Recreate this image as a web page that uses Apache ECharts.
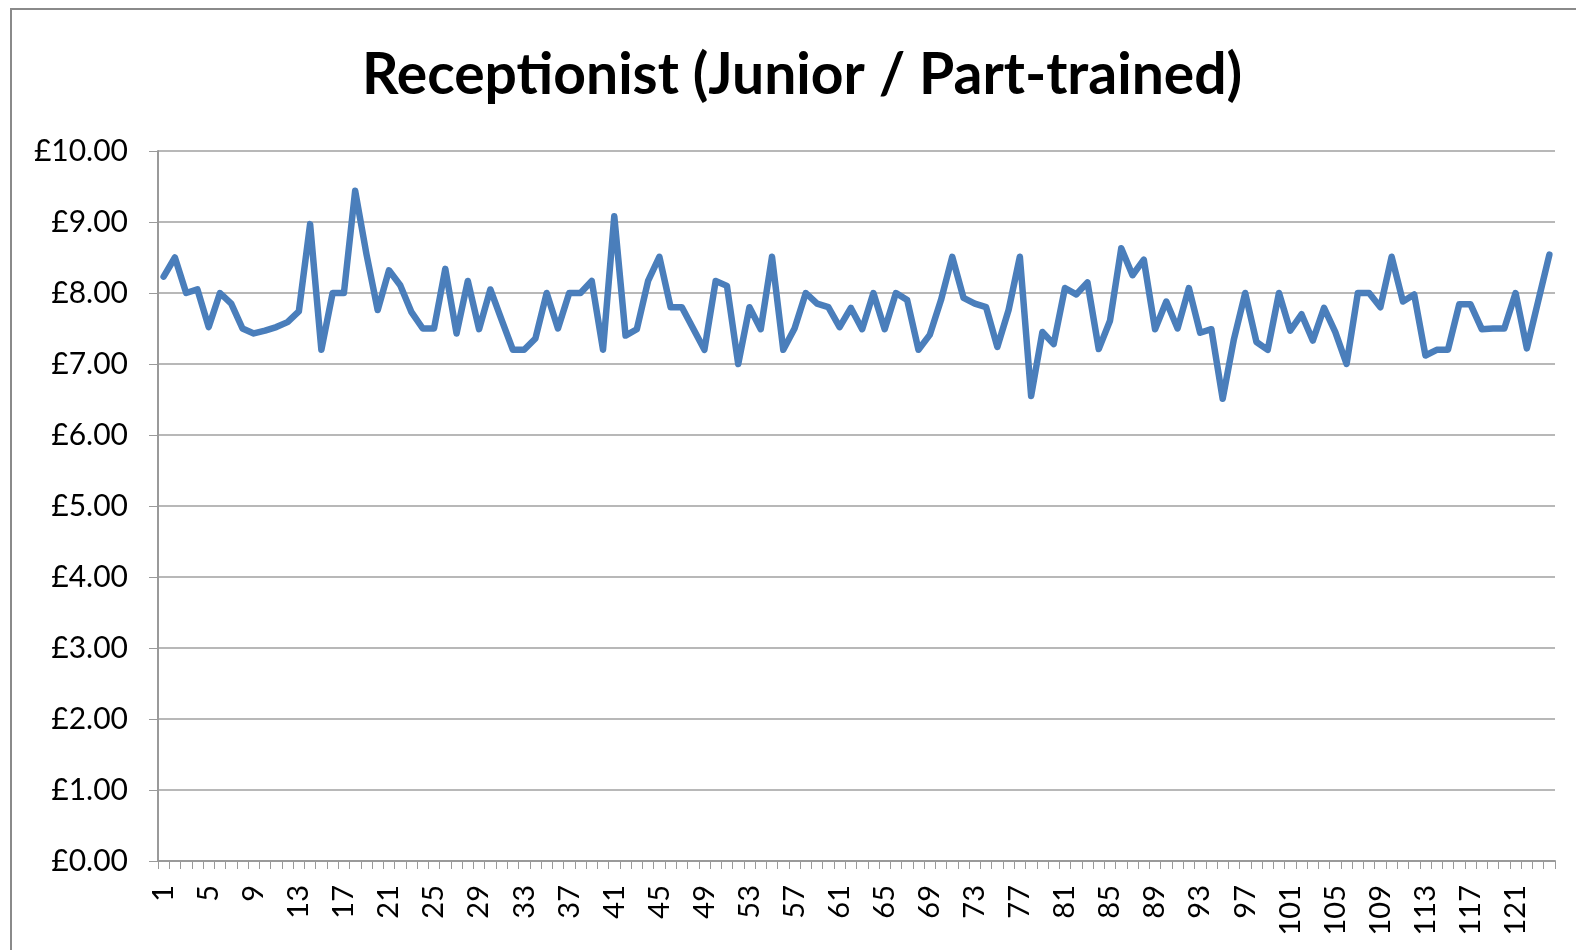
<!DOCTYPE html>
<html>
<head>
<meta charset="utf-8">
<script src="https://cdn.jsdelivr.net/npm/echarts@6/dist/echarts.min.js"></script>
<style>
html,body{margin:0;padding:0;background:#fff;}
#chart{width:1576px;height:950px;}
</style>
</head>
<body>
<div id="chart"></div>
<script>
const chartTitle = 'Receptionist (Junior / Part-trained)';
const categories = ['1','2','3','4','5','6','7','8','9','10','11','12','13','14','15','16','17','18','19','20',
'21','22','23','24','25','26','27','28','29','30','31','32','33','34','35','36','37','38','39','40',
'41','42','43','44','45','46','47','48','49','50','51','52','53','54','55','56','57','58','59','60',
'61','62','63','64','65','66','67','68','69','70','71','72','73','74','75','76','77','78','79','80',
'81','82','83','84','85','86','87','88','89','90','91','92','93','94','95','96','97','98','99','100',
'101','102','103','104','105','106','107','108','109','110','111','112','113','114','115','116','117','118','119','120',
'121','122','123','124'];
const rates = [
8.23, 8.50, 8.00, 8.05, 7.52, 8.00, 7.85, 7.50, 7.43, 7.47,
7.52, 7.59, 7.74, 8.97, 7.20, 8.00, 8.00, 9.44, 8.55, 7.76,
8.32, 8.11, 7.73, 7.50, 7.50, 8.34, 7.43, 8.17, 7.49, 8.05,
7.62, 7.20, 7.20, 7.36, 8.00, 7.50, 8.00, 8.00, 8.17, 7.20,
9.08, 7.40, 7.49, 8.17, 8.51, 7.80, 7.80, 7.50, 7.20, 8.17,
8.10, 7.00, 7.80, 7.49, 8.51, 7.20, 7.50, 8.00, 7.85, 7.80,
7.52, 7.79, 7.49, 8.00, 7.49, 8.00, 7.90, 7.20, 7.41, 7.90,
8.51, 7.93, 7.85, 7.80, 7.24, 7.76, 8.51, 6.55, 7.45, 7.28,
8.07, 7.98, 8.15, 7.21, 7.61, 8.63, 8.25, 8.47, 7.49, 7.88,
7.50, 8.07, 7.44, 7.49, 6.51, 7.35, 8.00, 7.31, 7.20, 8.00,
7.47, 7.70, 7.33, 7.79, 7.45, 7.00, 8.00, 8.00, 7.80, 8.51,
7.88, 7.98, 7.12, 7.20, 7.20, 7.84, 7.84, 7.49, 7.50, 7.50,
8.00, 7.22, 7.88, 8.54];
const yMin = 0, yMax = 10, yStep = 1;

const chart = echarts.init(document.getElementById('chart'), null, {renderer:'canvas'});
chart.setOption({
  animation: false,
  backgroundColor: '#ffffff',
  title: {
    text: chartTitle,
    left: 357,
    top: 42,
    textStyle: {fontFamily: 'Lato', fontWeight: 'bold', fontSize: 57, color: '#000'}
  },
  graphic: [{
    type: 'rect', silent: true, z: 100,
    shape: {x: 11, y: 9, width: 1700, height: 1100},
    style: {fill: 'none', stroke: '#8a8a8a', lineWidth: 2}
  }],
  grid: {left: 158, right: 21, top: 151, bottom: 89, containLabel: false},
  xAxis: {
    type: 'category',
    data: categories,
    boundaryGap: true,
    axisLine: {show: true, lineStyle: {color: '#9a9a9a', width: 2}},
    axisTick: {show: true, interval: 0, length: 8, lineStyle: {color: '#9a9a9a', width: 1}},
    axisLabel: {interval: 3, rotate: 90, margin: 24, fontFamily: 'Lato', fontSize: 29, color: '#000'},
    splitLine: {show: false}
  },
  yAxis: {
    type: 'value',
    min: yMin, max: yMax, interval: yStep,
    axisLine: {show: true, lineStyle: {color: '#9a9a9a', width: 2}},
    axisTick: {show: true, length: 9, lineStyle: {color: '#9a9a9a', width: 1}},
    axisLabel: {margin: 30, fontFamily: 'Lato', fontSize: 30, color: '#000',
      formatter: v => '£' + v.toFixed(2)},
    splitLine: {show: true, lineStyle: {color: '#a0a0a0', width: 1.5}}
  },
  series: [{
    type: 'line',
    data: rates,
    symbol: 'none',
    smooth: false,
    lineStyle: {color: '#4a7ebb', width: 6.5, cap: 'round', join: 'round'}
  }]
});
</script>
</body>
</html>
